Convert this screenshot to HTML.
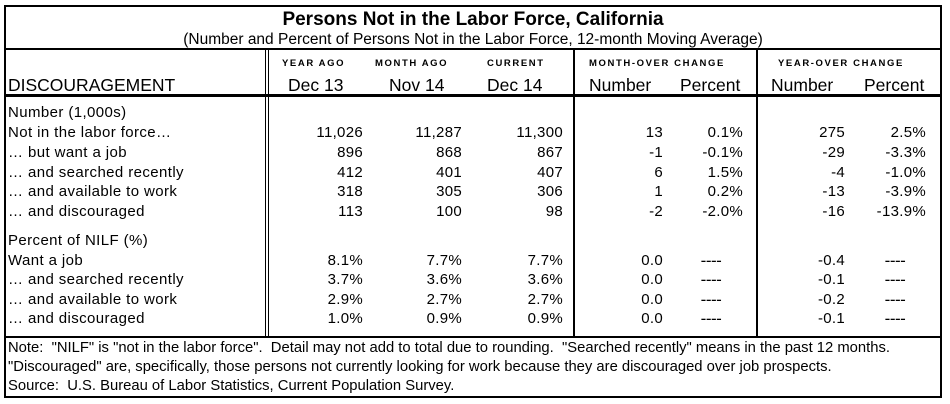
<!DOCTYPE html>
<html><head><style>
body{margin:0;background:#fff;width:950px;height:404px;position:relative;overflow:hidden;font-family:"Liberation Sans",Arial,sans-serif;color:#000}
.t{position:absolute;white-space:nowrap;font-size:15px;line-height:16px}
.r{text-align:right}
.ln{position:absolute;background:#000}
.h{font-size:9.5px;font-weight:bold;letter-spacing:1.6px}
</style></head><body>
<div class="ln" style="left:4px;top:5px;width:938px;height:2px"></div>
<div class="ln" style="left:4px;top:396px;width:938px;height:2px"></div>
<div class="ln" style="left:4px;top:5px;width:2px;height:393px"></div>
<div class="ln" style="left:940px;top:5px;width:2px;height:393px"></div>
<div class="ln" style="left:4px;top:48px;width:938px;height:2px"></div>
<div class="ln" style="left:4px;top:94px;width:938px;height:3px"></div>
<div class="ln" style="left:4px;top:336px;width:938px;height:2px"></div>
<div class="ln" style="left:265px;top:48px;width:1px;height:289px"></div>
<div class="ln" style="left:268px;top:48px;width:1px;height:289px"></div>
<div class="ln" style="left:573px;top:48px;width:2px;height:289px"></div>
<div class="ln" style="left:756px;top:48px;width:2px;height:289px"></div>

<div class="t" style="left:0;width:946px;text-align:center;top:9px;font-size:19px;font-weight:bold;line-height:22px">Persons Not in the Labor Force, California</div>
<div class="t" style="left:0;width:946px;text-align:center;top:31px;font-size:15.5px;line-height:18px">(Number and Percent of Persons Not in the Labor Force, 12-month Moving Average)</div>

<div class="t h" style="left:282px;top:56px">YEAR AGO</div>
<div class="t h" style="left:375px;top:56px">MONTH AGO</div>
<div class="t h" style="left:487px;top:56px">CURRENT</div>
<div class="t h" style="left:589px;top:56px">MONTH-OVER CHANGE</div>
<div class="t h" style="left:778px;top:56px">YEAR-OVER CHANGE</div>
<div class="t" style="left:8px;top:76px;font-size:17.5px;line-height:18px">DISCOURAGEMENT</div>
<div class="t" style="left:288px;top:76px;font-size:17.5px;line-height:18px">Dec 13</div>
<div class="t" style="left:389px;top:76px;font-size:17.5px;line-height:18px">Nov 14</div>
<div class="t" style="left:487px;top:76px;font-size:17.5px;line-height:18px">Dec 14</div>
<div class="t" style="left:589px;top:76px;font-size:17.5px;line-height:18px">Number</div>
<div class="t" style="left:680px;top:76px;font-size:17.5px;line-height:18px">Percent</div>
<div class="t" style="left:771px;top:76px;font-size:17.5px;line-height:18px">Number</div>
<div class="t" style="left:864px;top:76px;font-size:17.5px;line-height:18px">Percent</div>

<div id="rows"></div>
<script>
var rows=[
[105,"Number (1,000s)"],
[125,"Not in the labor force…","11,026","11,287","11,300","13","0.1%","275","2.5%"],
[145,"… but want a job","896","868","867","-1","-0.1%","-29","-3.3%"],
[165,"… and searched recently","412","401","407","6","1.5%","-4","-1.0%"],
[184,"… and available to work","318","305","306","1","0.2%","-13","-3.9%"],
[204,"… and discouraged","113","100","98","-2","-2.0%","-16","-13.9%"],
[233,"Percent of NILF (%)"],
[253,"Want a job","8.1%","7.7%","7.7%","0.0","-----","-0.4","-----"],
[272,"… and searched recently","3.7%","3.6%","3.6%","0.0","-----","-0.1","-----"],
[292,"… and available to work","2.9%","2.7%","2.7%","0.0","-----","-0.2","-----"],
[311,"… and discouraged","1.0%","0.9%","0.9%","0.0","-----","-0.1","-----"]];
var R=[363,462,563,663,743,845,926];
var h="";
rows.forEach(function(r){
 h+='<div class="t" style="left:8px;top:'+r[0]+'px;letter-spacing:0.4px">'+r[1]+'</div>';
 for(var i=2;i<r.length;i++){
  if(r[i]=="-----"){var c=(i==6)?711:895;h+='<div class="t" style="left:'+(c-15)+'px;width:30px;text-align:center;top:'+r[0]+'px;letter-spacing:-0.5px;font-size:17px">----</div>';}
  else h+='<div class="t r" style="left:'+(R[i-2]-100)+'px;width:100px;top:'+r[0]+'px;letter-spacing:0.3px">'+r[i]+'</div>';
 }
});
document.getElementById("rows").innerHTML=h;
</script>
<div class="t" style="left:8px;top:340px;font-size:14.8px">Note:&nbsp; "NILF" is "not in the labor force".&nbsp; Detail may not add to total due to rounding.&nbsp; "Searched recently" means in the past 12 months.</div>
<div class="t" style="left:8px;top:359px;font-size:14.8px">"Discouraged" are, specifically, those persons not currently looking for work because they are discouraged over job prospects.</div>
<div class="t" style="left:8px;top:378px;font-size:14.8px">Source:&nbsp; U.S. Bureau of Labor Statistics, Current Population Survey.</div>
</body></html>
